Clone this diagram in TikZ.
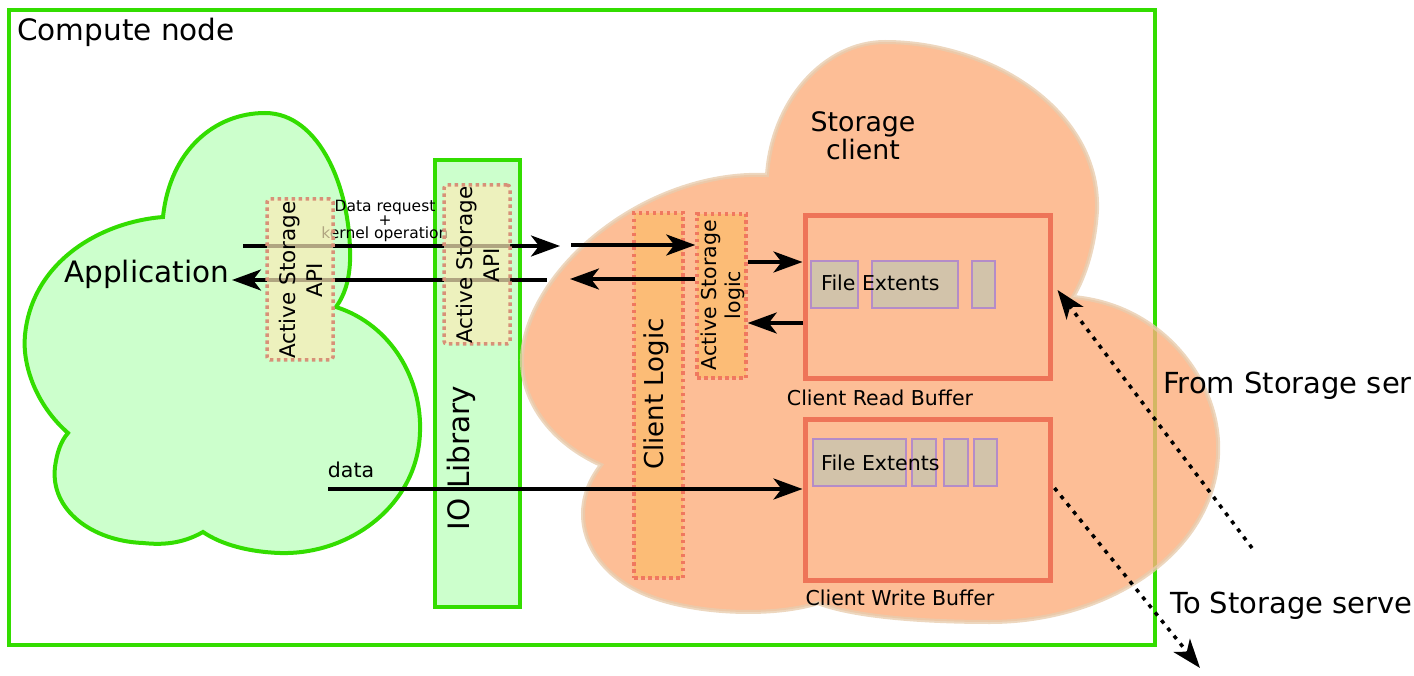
\documentclass[tikz,border=0pt]{standalone}
\usepackage{fontspec}
\setmainfont{DejaVu Sans}
\usetikzlibrary{arrows.meta}

\definecolor{cngreen}{RGB}{51,221,0}
\definecolor{appfill}{RGB}{204,255,204}
\definecolor{cloudfill}{RGB}{252,174,124}
\definecolor{cloudline}{RGB}{232,205,175}
\definecolor{apifill}{RGB}{252,236,184}
\definecolor{apidot}{RGB}{215,145,120}
\definecolor{logicfill}{RGB}{252,188,118}
\definecolor{logicdot}{RGB}{240,120,95}
\definecolor{bufline}{RGB}{238,116,88}
\definecolor{extfill}{RGB}{210,195,170}
\definecolor{extline}{RGB}{180,140,200}

\begin{document}
\begin{tikzpicture}[x=1pt,y=-1pt,
  arr/.style={line width=3.5pt,-{Stealth[length=29pt,width=21pt,inset=8pt]}},
  dotarr/.style={arr,dash pattern=on 4pt off 6pt},
  apibox/.style={draw=apidot,fill=apifill,fill opacity=.7,line width=3.5pt,dash pattern=on 3.5pt off 3.5pt,rounded corners=3pt,inner sep=0pt},
  logicbox/.style={draw=logicdot,fill=logicfill,line width=3.5pt,dash pattern=on 3.5pt off 3.5pt,inner sep=0pt},
  bufbox/.style={draw=bufline,line width=5pt,inner sep=0pt},
  extent/.style={draw=extline,fill=extfill,line width=1.8pt,inner sep=0pt,minimum height=47pt},
  vtext/.style={rotate=90,align=center,inner sep=0pt},
  lbl/.style={inner sep=0pt,font=\fontsize{20.5}{24}\selectfont}
]
\useasboundingbox (0,0) rectangle (1414,676);

% Compute node frame
\draw[cngreen,line width=4pt] (9,10) rectangle (1155,645);
\node[anchor=west,inner sep=0pt,font=\fontsize{29.5}{34}\selectfont] (cntitle) at (17,32) {Compute node};

% Application cloud
\draw[line width=4pt,draw=cngreen,fill=appfill]
  (163,217) .. controls (170,150) and (215,113) .. (265,113)
  .. controls (320,113) and (352,190) .. (350,262)
  .. controls (349,282) and (344,296) .. (336,307)
  .. controls (392,325) and (422,380) .. (420,432)
  .. controls (418,505) and (350,555) .. (280,553)
  .. controls (250,552) and (222,545) .. (203,532)
  .. controls (182,544) and (162,545) .. (143,543)
  .. controls (92,541) and (50,510) .. (55,467)
  .. controls (57,452) and (61,441) .. (68,433)
  .. controls (36,405) and (22,365) .. (25,335)
  .. controls (32,262) and (100,222) .. (163,217) -- cycle;
\node[anchor=west,inner sep=0pt,font=\fontsize{29.5}{34}\selectfont] (app) at (64,274) {Application};

% IO library
\node[draw=cngreen,fill=appfill,line width=4pt,minimum width=85pt,minimum height=447pt] (iolib) at (477.5,383.5) {};
\node[vtext,font=\fontsize{29.5}{34}\selectfont] (iolibtext) at (461,458) {IO Library};

% Storage client cloud
\draw[line width=4pt,draw=cloudline,fill=cloudfill,opacity=.8]
  (767,175) .. controls (772,100) and (825,42) .. (885,42)
  .. controls (990,42) and (1100,110) .. (1097,210)
  .. controls (1095,245) and (1086,275) .. (1073,297)
  .. controls (1165,305) and (1222,385) .. (1218,455)
  .. controls (1213,555) and (1105,622) .. (990,622)
  .. controls (905,622) and (845,614) .. (818,603)
  .. controls (772,618) and (680,615) .. (632,588)
  .. controls (585,562) and (566,510) .. (601,465)
  .. controls (545,440) and (516,392) .. (523,347)
  .. controls (536,262) and (650,170) .. (767,175) -- cycle;
\node[align=center,inner sep=0pt,font=\fontsize{26.8}{28}\selectfont] (sctitle) at (863,136) {Storage\\client};

% Client logic and active storage logic
\node[logicbox,minimum width=49pt,minimum height=365pt] (cl) at (658.5,395.5) {};
\node[vtext,font=\fontsize{26}{30}\selectfont] (cltext) at (656,394) {Client Logic};
\node[logicbox,minimum width=49pt,minimum height=164pt] (asl) at (721.5,296) {};
\node[vtext,font=\fontsize{20.5}{24}\selectfont] (asltext) at (723,295) {Active Storage\\logic};

% Buffers
\node[bufbox,minimum width=245pt,minimum height=162pt] (rb) at (927.5,297) {};
\node[bufbox,minimum width=245pt,minimum height=161pt] (wb) at (927.5,499.5) {};
\node[lbl] (rbtext) at (880,398) {Client Read Buffer};
\node[lbl] (wbtext) at (900,598) {Client Write Buffer};

% File extents
\node[extent,minimum width=47pt] (re1) at (834.5,284.5) {};
\node[extent,minimum width=86pt] (re2) at (915,284.5) {};
\node[extent,minimum width=23pt] (re3) at (983.5,284.5) {};
\node[extent,minimum width=93pt] (we1) at (859.5,462.5) {};
\node[extent,minimum width=24pt] (we2) at (924,462.5) {};
\node[extent,minimum width=24pt] (we3) at (956,462.5) {};
\node[extent,minimum width=23pt] (we4) at (985.5,462.5) {};
\node[anchor=west,inner sep=0pt,font=\fontsize{20.5}{24}\selectfont] (retext) at (821,283) {File Extents};
\node[anchor=west,inner sep=0pt,font=\fontsize{20.5}{24}\selectfont] (wetext) at (821,463) {File Extents};

% Request and response arrows
\coordinate (reqstart) at (243,246);
\coordinate (reqend) at (560,246);
\coordinate (reqnext) at (571,245);
\coordinate (respstart) at (547,280);
\coordinate (respend) at (232,280);
\coordinate (respnext) at (570,279);
\draw[arr] (reqstart) -- (reqend);
\draw[arr] (reqnext) -- ([yshift=51pt]asl.west);
\draw[arr] ([yshift=17pt]asl.west) -- (respnext);
\draw[arr] (respstart) -- (respend);
\draw[arr] ([yshift=34pt]asl.east) -- ([yshift=35pt]rb.west);
\draw[arr] ([yshift=-26pt]rb.west) -- ([yshift=-27pt]asl.east);
\node[align=center,inner sep=0pt,font=\fontsize{15.5}{13.5}\selectfont] (reqtext) at (385,221) {Data request\\+\\kernel operation};

% Data arrow
\coordinate (datastart) at (328,489);
\draw[arr] (datastart) -- ([yshift=10.5pt]wb.west);
\node[lbl] (datatext) at (351,470) {data};

% Active storage API boxes
\node[apibox,minimum width=66pt,minimum height=161pt] (appapi) at (300,279.5) {};
\node[vtext,font=\fontsize{21.5}{27}\selectfont] (appapitext) at (301,280) {Active Storage\\API};
\node[apibox,minimum width=66pt,minimum height=159pt] (ioapi) at (477,264.5) {};
\node[vtext,font=\fontsize{21.5}{27}\selectfont] (ioapitext) at (478,265) {Active Storage\\API};

% Storage server traffic
\coordinate (fromsrv) at (1252,548);
\coordinate (tosrv) at (1200,668);
\draw[dotarr] (fromsrv) -- ([xshift=5pt,yshift=7pt]rb.east);
\draw[dotarr] ([xshift=2pt,yshift=11.5pt]wb.east) -- (tosrv);
\node[anchor=west,inner sep=0pt,font=\fontsize{29}{32}\selectfont] (fromtext) at (1163,386) {From Storage ser};
\node[anchor=west,inner sep=0pt,font=\fontsize{29}{32}\selectfont] (totext) at (1170,606) {To Storage serve};
\end{tikzpicture}
\end{document}
